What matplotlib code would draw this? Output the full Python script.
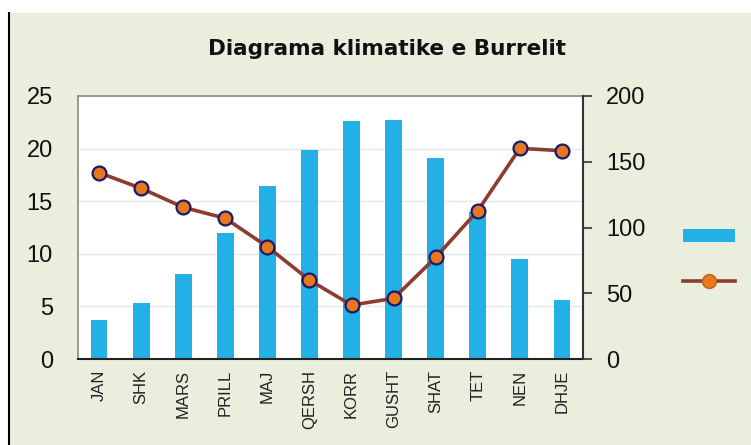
import matplotlib
matplotlib.use("Agg")
import matplotlib.pyplot as plt
from matplotlib.patches import Rectangle, Patch
from matplotlib.lines import Line2D
import numpy as np

plt.rcParams['font.family'] = ['Liberation Sans', 'DejaVu Sans']

months = ["JAN", "SHK", "MARS", "PRILL", "MAJ", "QERSH", "KORR", "GUSHT", "SHAT", "TET", "NEN", "DHJE"]
temperature = [3.7, 5.3, 8.1, 12.0, 16.4, 19.9, 22.6, 22.7, 19.1, 14.0, 9.5, 5.6]
precipitation = [141.7, 129.8, 115.4, 107.0, 85.4, 60.0, 41.0, 46.1, 77.3, 112.8, 160.2, 158.4]
left_ticks = [0, 5, 10, 15, 20, 25]
right_ticks = [0, 50, 100, 150, 200]
title = "Diagrama klimatike e Burrelit"

W, H = 751, 445
fig = plt.figure(figsize=(W / 100, H / 100), dpi=100)
fig.patch.set_facecolor("white")
bg = Rectangle((8 / W, 0), 1 - 8 / W, 1 - 13 / H, transform=fig.transFigure,
               facecolor="#E9EEDD", edgecolor="none", zorder=-10)
fig.add_artist(bg)
fig.add_artist(Line2D([8.5 / W, 8.5 / W], [0, 1 - 13 / H], transform=fig.transFigure,
                      color="black", lw=1.5))

ax = fig.add_axes([78 / W, 1 - 359 / H, (583 - 78) / W, (359 - 96) / H])
ax.set_facecolor("white")
x = np.arange(len(months))
ax.bar(x, temperature, width=0.4, color="#22B0E6", zorder=2)
ax.set_xlim(-0.5, len(months) - 0.5)
ax.set_ylim(0, 25)
ax.set_yticks(left_ticks)
ax.tick_params(axis="y", length=0, labelsize=17, pad=18, colors="#111111")
ax.set_xticks(x)
ax.set_xticklabels(months, rotation=90, fontsize=12, color="#222222")
ax.tick_params(axis="x", length=0, pad=8)
ax.yaxis.grid(True, color="#E2EBEB", lw=1)
ax.set_axisbelow(True)
for s in ["left", "top"]:
    ax.spines[s].set_color("#8A8A8A")
    ax.spines[s].set_linewidth(1.2)
ax.spines["bottom"].set_color("#222222")
ax.spines["bottom"].set_linewidth(1.5)
ax.spines["right"].set_visible(False)

ax2 = ax.twinx()
ax2.plot(x, precipitation, color="#8E3B30", lw=2.6, marker="o", markersize=10,
         markerfacecolor="#E8781E", markeredgecolor="#1A1A6B", markeredgewidth=1.6, zorder=3)
ax2.set_ylim(0, 200)
ax2.set_yticks(right_ticks)
ax2.tick_params(axis="y", direction="out", length=6.5, width=1.2, color="#333333",
                labelsize=17, pad=10, labelcolor="#111111")
ax2.spines["right"].set_color("#333333")
ax2.spines["right"].set_linewidth(1.5)
for s in ["left", "top", "bottom"]:
    ax2.spines[s].set_visible(False)

fig.text(387 / W, 1 - 49 / H, title, ha="center", va="center", fontsize=15.5,
         fontweight="bold", color="#111111", family=["DejaVu Sans"])

handles = [Patch(facecolor="#22B0E6", edgecolor="none"),
           Line2D([], [], color="#8E3B30", lw=2.6, marker="o", markersize=10,
                  markerfacecolor="#E8781E", markeredgecolor="#C0601A")]
leg = fig.legend(handles, ["", ""], loc="center", bbox_to_anchor=(709 / W, 1 - 260 / H),
                 frameon=False, fontsize=13, handlelength=2.9, handleheight=0.75,
                 labelspacing=1.6, handletextpad=0, borderpad=0)

fig.savefig("out.png", dpi=100, facecolor=fig.get_facecolor())
